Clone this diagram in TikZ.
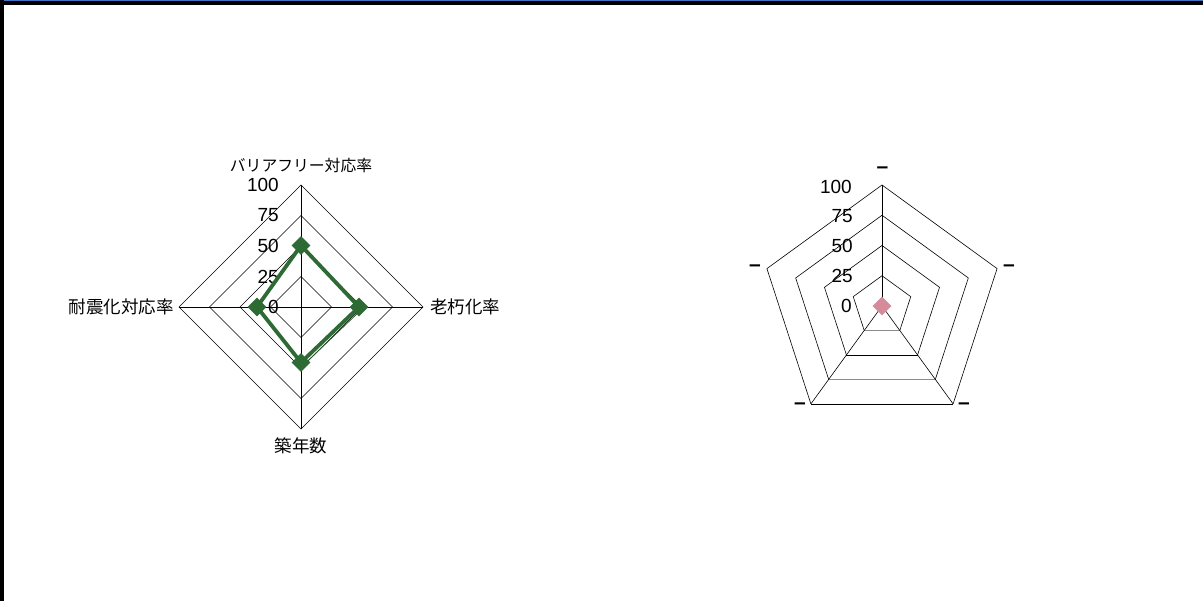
\documentclass[tikz,border=0pt]{standalone}
\usepackage{fontspec}
\setmainfont{Liberation Sans}
\newfontfamily\jp{Noto Sans CJK JP}
\usetikzlibrary{shapes.geometric,calc}
\definecolor{sgreen}{RGB}{46,106,52}
\definecolor{spink}{RGB}{212,140,155}
\definecolor{sblue}{RGB}{68,114,196}
\tikzset{
  grid/.style={draw=black,line width=0.6pt},
  gridlight/.style={draw=black!45,line width=0.6pt},
  tick/.style={anchor=east,inner sep=0pt,font=\fontsize{19}{19}\selectfont},
  axlab/.style={inner sep=0pt,font=\jp\fontsize{17.5}{17.5}\selectfont},
  dashlab/.style={inner sep=0pt,anchor=base,font=\bfseries\fontsize{21}{21}\selectfont},
  gmark/.style={diamond,fill=sgreen,minimum size=19pt,inner sep=0pt},
  pmark/.style={diamond,fill=spink,minimum size=19pt,inner sep=0pt},
  series/.style={draw=sgreen,line width=3.8pt,line join=round},
  seriesthin/.style={draw=sgreen!80!black,line width=0.8pt}
}
\begin{document}
\begin{tikzpicture}[x=1pt,y=-1pt]
\useasboundingbox (0,0) rectangle (1203,601);
\fill[white] (0,0) rectangle (1203,601);
% frame
\fill[black] (0,0) rectangle (3.7,601);
\fill[sblue] (3.7,0) rectangle (1203,1.4);
\fill[black] (3.7,1.4) rectangle (1203,4.7);

% ---------- left radar chart ----------
\begin{scope}[shift={(301,307)},x=1pt,y=1pt]
  \foreach \r in {30.5,61,91.5,122}
    \draw[grid] (90:\r)--(0:\r)--(270:\r)--(180:\r)--cycle;
  \draw[grid] (90:122)--(270:122);
  \draw[grid] (180:122)--(0:122);
  \node[axlab,font=\jp\fontsize{15.8}{15.8}\selectfont] (lt) at (0,141) {バリアフリー対応率};
  \node[axlab,anchor=east] (ll) at (-127,0) {耐震化対応率};
  \node[axlab,anchor=west] (lr) at (129,0) {老朽化率};
  \node[axlab] (lb) at (0,-139) {築年数};
  \node[tick] (t100) at (-22,122) {100};
  \node[tick] (t75) at (-22,92) {75};
  \node[tick] (t50) at (-22,61) {50};
  \node[tick] (t25) at (-22,30) {25};
  \node[tick] (t0) at (-22,0) {0};
  \coordinate (p1) at (90:61.5);
  \coordinate (p2) at (0:58);
  \coordinate (p3) at (270:55.5);
  \coordinate (p4) at (180:44);
  \draw[series] (p1)--(p2)--(p3)--(p4)--cycle;
  \draw[seriesthin] ($(p2)+(2.5,-2.5)$)--($(p3)+(2.5,-2.5)$);
  \node[gmark] (m1) at (p1) {};
  \node[gmark] (m2) at (p2) {};
  \node[gmark] (m3) at (p3) {};
  \node[gmark] (m4) at (p4) {};
\end{scope}

% ---------- right radar chart ----------
\begin{scope}[shift={(882,306)},x=1pt,y=1pt]
  \foreach \r/\s in {30.25/gridlight,60.5/grid,90.75/gridlight,121/grid}{
    \draw[grid] (-54:\r)--(18:\r)--(90:\r)--(162:\r)--(234:\r);
    \draw[\s] (234:\r)--(-54:\r);
  }
  \draw[grid] (0,0)--(90:121);
  \draw[grid] (0,0)--(-54:121);
  \draw[grid] (0,0)--(234:121);
  \node[dashlab] (d1) at (0.5,132) {–};
  \node[dashlab] (d2) at (127,34) {–};
  \node[dashlab] (d3) at (-127,34) {–};
  \node[dashlab] (d4) at (-82,-104) {–};
  \node[dashlab] (d5) at (82,-104) {–};
  \node[tick] (r100) at (-30,119) {100};
  \node[tick] (r75) at (-29,90) {75};
  \node[tick] (r50) at (-29,60) {50};
  \node[tick] (r25) at (-29,30) {25};
  \node[tick] (r0) at (-30,0) {0};
  \node[pmark] (pm) at (0,0) {};
\end{scope}
\end{tikzpicture}
\end{document}
